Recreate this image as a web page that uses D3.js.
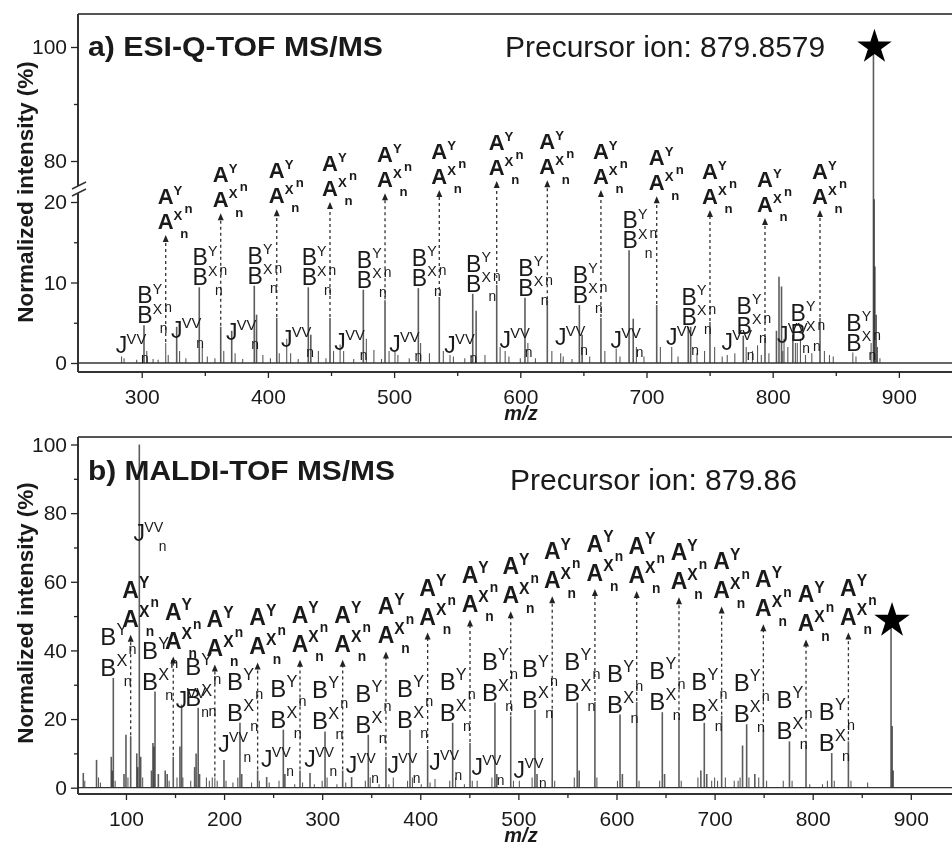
<!DOCTYPE html>
<html>
<head>
<meta charset="utf-8">
<script src="https://cdn.jsdelivr.net/npm/d3@7"></script>
<style>
  body { margin: 0; background: #fff; }
  svg { display: block; font-family: "Liberation Sans", Arial, sans-serif; will-change: transform; }
</style>
</head>
<body>
<svg id="chart" width="952" height="852"></svg>
<script>
// ---- panel a: ESI-Q-TOF ----
const esiAMz = [319.0, 362.6, 407.0, 449.2, 492.8, 535.8, 581.3, 621.4, 663.9, 708.1, 750.3, 793.9, 837.5];
const esiAInt = [2.5, 4.5, 5.6, 5.6, 7.8, 8.2, 9.7, 7.8, 5.6, 7.2, 5.1, 3.1, 5.6];
const esiALabel = [15.9, 18.6, 19.1, 20.0, 21.1, 21.5, 22.6, 22.7, 21.5, 20.7, 19.0, 18.0, 19.0]; // arrow tip level
const esiBMz = [301.8, 345.6, 389.2, 432.0, 475.6, 519.2, 562.3, 603.7, 646.8, 686.2, 733.1, 776.7, 819.5, 863.5];
const esiBInt = [4.7, 9.4, 9.6, 9.4, 9.1, 9.3, 8.6, 8.1, 7.2, 14.0, 4.5, 3.4, 2.5, 1.3];
const esiJMz = [284.0, 327.7, 371.3, 414.9, 457.2, 500.7, 544.3, 588.0, 632.0, 676.0, 720.0, 764.0, 808.0];
const esiJInt = [0.8, 4.5, 4.0, 3.0, 2.3, 1.4, 1.0, 1.5, 1.2, 1.8, 2.0, 1.0, 1.5];
const esiJLabel = [1.2, 3.1, 2.9, 2.0, 1.6, 1.4, 1.2, 1.9, 2.2, 1.9, 2.2, 1.6, 2.5];
const esiMinor = [[286,0.6],[296,0.4],[304,1.5],[309,0.5],[313,0.4],[321,1.0],[330,1.5],[335,0.6],[348,2.0],[352,0.8],
  [358,0.6],[365,1.5],[374,1.2],[380,0.5],[391,6.0],[396,1.0],[402,0.6],[409,1.2],[418,1.2],[424,0.5],[434,3.5],[440,1.5],
  [446,0.6],[452,1.5],[460,1.5],[468,0.5],[478,3.0],[484,1.6],[490,0.5],[496,1.5],[503,1.0],[512,0.6],[521,2.5],[528,1.2],
  [539,1.5],[547,0.8],[556,0.6],[565,6.5],[572,1.0],[584,2.0],[591,0.8],[600,0.6],[606,2.5],[612,0.6],[625,1.5],[634,0.8],
  [641,0.5],[649,3.5],[655,0.8],[667,1.5],[679,0.8],[689.5,5.5],[692,2.0],[698,0.8],[711,2.0],[725,0.8],[735,4.5],[740,1.2],
  [746,1.5],[754,2.0],[760,0.8],[770,1.2],[779,2.0],[784,1.5],[788,2.2],[791,1.0],[797,1.2],[803,4.0],[805,10.7],[807,9.5],
  [809,3.0],[812,2.0],[816,3.5],[818,2.5],[822,3.0],[826,1.0],[831,1.2],[841,1.5],[845,1.0],[848,0.8],[866,0.8],[878,2.5],
  [880.4,24],[881,12],[882,6],[883,2],[885,0.6]];
const esiPrecursor = [879.86, 100];
const esiYTicks = [0, 10, 20, 80, 100];
const esiYMinor = [5, 15, 90];
const esiXTicks = [300, 400, 500, 600, 700, 800, 900];
const esiXMinor = [350, 450, 550, 650, 750, 850];

// ---- panel b: MALDI-TOF ----
const malAMz = [104.8, 148.2, 190.6, 234.2, 277.4, 320.9, 365.0, 407.5, 450.7, 492.2, 534.5, 578.0, 620.6, 663.7, 707.2, 749.7, 793.2, 836.4];
const malAInt = [15, 9, 3, 5, 5, 5, 9, 11, 13, 20.8, 22.7, 25, 25, 20.5, 21, 17, 12.5, 13.5];
const malALabel = [44.6, 38.2, 35.9, 36.5, 37.3, 37.3, 39.7, 45.2, 49.0, 51.4, 55.8, 57.9, 57.3, 55.5, 52.8, 47.6, 43.2, 45.2];
const malBMz = [87.1, 129.6, 173.6, 216.2, 260.4, 302.9, 347.0, 389.5, 433.0, 476.1, 516.9, 560.0, 603.6, 646.7, 689.5, 732.7, 776.3, 819.4];
const malBInt = [32, 28, 23.3, 18.9, 16.9, 16.4, 15.4, 16.9, 18.9, 24.8, 22.7, 24.8, 21.3, 22.0, 18.9, 18.5, 13.5, 10.1];
const malJMz = [113.6, 156.7, 199.9, 243.4, 287.6, 330.0, 372.5, 415.0, 458.0, 501.0];
const malJInt = [100, 24.2, 8.1, 3.1, 4.3, 3.1, 3.0, 2.5, 2.0, 2.0];
const malJLabel = [71.8, 23.3, 10.4, 6.1, 6.1, 4.3, 4.3, 5.2, 3.7, 2.8];
const malMinor = [[56.5,4.3],[58,2],[70,8.1],[72,3],[74,1.5],[85,9],[86,5],[89,2],[98,4],[100,15.4],[102,3],[111,10],
  [112,6],[115,9],[117,3],[126,5],[127.5,13],[128.5,12],[133,4],[140,5],[142,4],[144,2],[152,3],[155,12],[158,3],[166,2],
  [170,6],[171.5,10],[175,4],[182,3],[185,2],[188,3],[193,2],[202,2],[209,1.5],[214,3],[218,4],[228,1.5],[236,2],[246,1.5],
  [256,2],[262,4],[272,1],[280,1.5],[292,1],[300,2],[305,3],[315,1],[324,1.5],[344,2],[349,3],[358,1],[368,1],[387,2],
  [392,3],[401,1],[410,1.5],[430,2],[436,3],[445,1],[453,2],[473,3],[478,4],[495,2],[514,3],[519,4],[537,2],[557,3],
  [562,5],[580,3],[601,2],[606,4],[623,2],[644,2],[649,4],[666,2],[683,3],[686,5],[692,4],[697,2],[700,3],[703,2],[711,3],
  [720,2],[724,2],[726,3],[728.5,12.3],[735,3],[741,4],[745,3],[753,2],[770,2],[779,2],[797,1],[810,1],[815,2],[822,2],
  [839,2],[856,1.5],[881,18],[882,5]];
const malPrecursor = [879.86, 48.7];
const malYTicks = [0, 20, 40, 60, 80, 100];
const malYMinor = [10, 30, 50, 70, 90];
const malXTicks = [100, 200, 300, 400, 500, 600, 700, 800, 900];
const malXMinor = [150, 250, 350, 450, 550, 650, 750, 850];

const svg = d3.select('#chart');
const ink = '#1a1a1a';

// piece of text, letters with sup/sub drawn as separate texts
function txt(g, x, y, s, size, bold, anchor) {
    return g.append('text').attr('x', x).attr('y', y)
        .attr('font-size', size).attr('font-weight', bold ? 'bold' : 'normal')
        .attr('text-anchor', anchor || 'start').attr('fill', ink).text(s);
}

// two stacked labels like  L^Y_n over L^X_n
function ionPair(g, cx, yb, letter, o) {
    const fs = o.fs, hw = o.half * fs, y1 = yb - o.gap;
    txt(g, cx, y1, letter, fs, o.bold, 'middle');
    txt(g, cx + hw, y1 - 0.42 * fs, 'Y', o.sup * fs, o.bold);
    txt(g, cx + hw + 0.5 * fs, y1 + 0.4 * fs, 'n', 0.6 * fs, o.bold);
    txt(g, cx, yb, letter, fs, o.bold, 'middle');
    txt(g, cx + hw, yb - 0.42 * fs, 'X', o.sup * fs, o.bold);
    txt(g, cx + hw + 0.3 * fs, yb + 0.42 * fs, 'n', 0.6 * fs, o.bold);
}

function ionJ(g, cx, yb, o) {
    const fs = o.fs;
    txt(g, cx, yb, 'J', fs, false, 'middle');
    txt(g, cx + 0.22 * fs, yb - 0.42 * fs, 'VV', o.sup * fs, false);
    txt(g, cx + 0.85 * fs, yb + 0.42 * fs, 'n', 0.6 * fs, false);
}

function drawPanel(p) {
    const g = svg.append('g');
    const x = p.x, y = p.y, yl = p.yLabel;
    const inside = (d) => x(d[0]) > 79 && x(d[0]) < 951;

    // baseline of the spectrum
    g.append('line').attr('x1', 79).attr('x2', 952).attr('y1', y(0)).attr('y2', y(0))
        .attr('stroke', '#333').attr('stroke-width', 1.3);

    // sticks
    const peaks = p.minor.concat(d3.zip(p.bMz, p.bInt), d3.zip(p.aMz, p.aInt), d3.zip(p.jMz, p.jInt), [p.prec]);
    g.append('g').selectAll('line').data(peaks.filter(inside)).join('line')
        .attr('x1', d => x(d[0])).attr('x2', d => x(d[0]))
        .attr('y1', y(0)).attr('y2', d => y(d[1]))
        .attr('stroke', '#333').attr('stroke-opacity', 0.8)
        .attr('stroke-width', d => d[1] > 3 ? 1.6 : 1.1);

    // dashed arrows from A peaks up to their labels
    const arrows = g.append('g');
    p.aMz.forEach((m, i) => {
        const px = x(m), top = yl(p.aLabel[i]);
        arrows.append('line').attr('x1', px).attr('x2', px)
            .attr('y1', y(p.aInt[i]) - 1).attr('y2', top + 5)
            .attr('stroke', '#333').attr('stroke-width', 1.3).attr('stroke-dasharray', '3,3');
        arrows.append('path').attr('d', `M${px},${top}L${px - 3},${top + 7}L${px + 3},${top + 7}Z`).attr('fill', '#222');
        ionPair(g, px, top - p.aLift, 'A', p.aOpt);
    });

    p.bMz.forEach((m, i) => {
        ionPair(g, x(m) + p.bShift, y(p.bInt[i]) - 2, 'B', p.bOpt);
    });
    p.jMz.forEach((m, i) => {
        if (x(m) > 90) ionJ(g, x(m), yl(p.jLabel[i]), p.jOpt);
    });

    // precursor star
    g.append('path').attr('d', d3.symbol(d3.symbolStar, p.starSize)())
        .attr('transform', `translate(${x(p.prec[0]) + 1},${y(p.prec[1])})`).attr('fill', '#000');

    // frame
    const frame = g.append('g').attr('stroke', '#333').attr('stroke-width', 2);
    frame.append('line').attr('x1', 78).attr('x2', 952).attr('y1', p.top).attr('y2', p.top).attr('stroke', '#555');
    frame.append('line').attr('x1', 78).attr('x2', 952).attr('y1', p.bottom).attr('y2', p.bottom);
    if (p.brk) {
        frame.append('line').attr('x1', 78).attr('x2', 78).attr('y1', p.top).attr('y2', p.brk[0]);
        frame.append('line').attr('x1', 78).attr('x2', 78).attr('y1', p.brk[1]).attr('y2', p.bottom);
        frame.append('line').attr('x1', 72).attr('x2', 86).attr('y1', p.brk[0] + 3).attr('y2', p.brk[0] - 4).attr('stroke-width', 1.4);
        frame.append('line').attr('x1', 72).attr('x2', 86).attr('y1', p.brk[1] + 3).attr('y2', p.brk[1] - 4).attr('stroke-width', 1.4);
    } else {
        frame.append('line').attr('x1', 78).attr('x2', 78).attr('y1', p.top).attr('y2', p.bottom);
    }

    // y axis
    const yAx = g.append('g').attr('transform', 'translate(78,0)')
        .call(d3.axisLeft(y).tickValues(p.yTicks).tickSize(7).tickPadding(4));
    g.append('g').attr('transform', 'translate(78,0)')
        .call(d3.axisLeft(y).tickValues(p.yMinor).tickSize(4).tickFormat(''))
        .call(s => s.select('.domain').remove());
    // x axis
    const xAx = g.append('g').attr('transform', `translate(0,${p.bottom})`)
        .call(d3.axisBottom(x).tickValues(p.xTicks).tickSize(6).tickPadding(11));
    g.append('g').attr('transform', `translate(0,${p.bottom})`)
        .call(d3.axisBottom(x).tickValues(p.xMinor).tickSize(4).tickFormat(''))
        .call(s => s.select('.domain').remove());
    g.selectAll('.domain').remove();
    g.selectAll('.tick line').attr('stroke', '#222').attr('stroke-width', 1.3);
    [yAx, xAx].forEach(a => a.selectAll('text').attr('font-size', 21).attr('fill', ink)
        .attr('font-family', '"Liberation Sans", Arial, sans-serif'));

    // titles
    txt(g, 88, p.titleY, p.title, 28, true).attr('textLength', p.titleW).attr('lengthAdjust', 'spacingAndGlyphs');
    txt(g, p.precX, p.precY, p.precText, 30, false);
    g.append('text').attr('x', 521).attr('y', p.bottom + 48).attr('text-anchor', 'middle')
        .attr('font-size', 20).attr('font-weight', 'bold').attr('font-style', 'italic').attr('fill', ink).text('m/z');
    g.append('text').attr('transform', `translate(33,${p.yLabelMid}) rotate(-90)`)
        .attr('text-anchor', 'middle').attr('font-size', 22.5).attr('font-weight', 'bold').attr('fill', ink)
        .text('Normalized intensity (%)');
}

const yEsiLow = d3.scaleLinear().domain([0, 20]).range([363, 202]);
drawPanel({
    x: d3.scaleLinear().domain([249.5, 942.1]).range([78, 952]),
    y: d3.scaleLinear().domain([0, 20, 80, 100]).range([363, 202, 161, 47]),
    yLabel: yEsiLow,
    aMz: esiAMz, aInt: esiAInt, aLabel: esiALabel,
    bMz: esiBMz, bInt: esiBInt, jMz: esiJMz, jInt: esiJInt, jLabel: esiJLabel,
    minor: esiMinor, prec: esiPrecursor,
    aOpt: { fs: 22, bold: true, gap: 25, sup: 0.6, half: 0.36 },
    bOpt: { fs: 23, bold: false, gap: 20, sup: 0.62, half: 0.34 },
    jOpt: { fs: 23, sup: 0.64 },
    aLift: 6, bShift: 1, starSize: 370,
    top: 14, bottom: 372, brk: [186, 193],
    yTicks: esiYTicks, yMinor: esiYMinor, xTicks: esiXTicks, xMinor: esiXMinor,
    title: 'a) ESI-Q-TOF MS/MS', titleY: 56, titleW: 295,
    precText: 'Precursor ion: 879.8579', precX: 505, precY: 57,
    yLabelMid: 192
});

const yMal = d3.scaleLinear().domain([0, 100]).range([787.7, 444.5]);
drawPanel({
    x: d3.scaleLinear().domain([51.1, 942]).range([78, 952]),
    y: yMal, yLabel: yMal,
    aMz: malAMz, aInt: malAInt, aLabel: malALabel,
    bMz: malBMz, bInt: malBInt, jMz: malJMz, jInt: malJInt, jLabel: malJLabel,
    minor: malMinor, prec: malPrecursor,
    aOpt: { fs: 23, bold: true, gap: 29, sup: 0.68, half: 0.36 },
    bOpt: { fs: 24, bold: false, gap: 31, sup: 0.68, half: 0.34 },
    jOpt: { fs: 23, sup: 0.62 },
    aLift: 8, bShift: -5, starSize: 390,
    top: 437, bottom: 794, brk: null,
    yTicks: malYTicks, yMinor: malYMinor, xTicks: malXTicks, xMinor: malXMinor,
    title: 'b) MALDI-TOF MS/MS', titleY: 480, titleW: 307,
    precText: 'Precursor ion: 879.86', precX: 510, precY: 490,
    yLabelMid: 613
});
</script>
</body>
</html>
